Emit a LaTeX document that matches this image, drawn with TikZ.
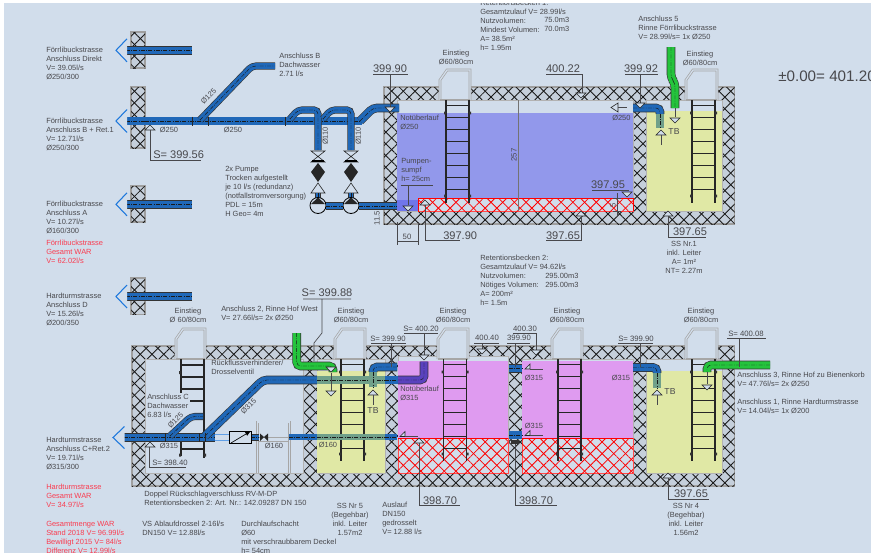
\documentclass[tikz,border=0pt]{standalone}
\usepackage{fontspec}
\setmainfont{Liberation Sans}
\usetikzlibrary{patterns.meta}
\definecolor{sheetbg}{RGB}{209,221,235}
\definecolor{inktext}{RGB}{72,72,76}
\definecolor{redtext}{RGB}{250,60,80}
\definecolor{waterblue}{RGB}{146,152,235}
\definecolor{sumpblue}{RGB}{112,118,235}
\definecolor{watermag}{RGB}{223,155,240}
\definecolor{wateryel}{RGB}{224,232,165}
\definecolor{pipeblue}{RGB}{32,104,184}
\definecolor{pipegreen}{RGB}{36,196,60}
\definecolor{pipeteal}{RGB}{112,160,138}
\definecolor{pipepurple}{RGB}{90,66,190}
\definecolor{flowblue}{RGB}{30,120,220}
\tikzset{
    note/.style={text=inktext, inner sep=0pt, anchor=west, text height=4pt, text depth=1.2pt,
        font=\fontsize{5.6}{6.7}\selectfont},
    rednote/.style={note, text=redtext},
    midnote/.style={note, anchor=center},
    level/.style={text=inktext, inner sep=0pt, font=\fontsize{8.3}{9}\selectfont},
    levelsm/.style={text=inktext, inner sep=0pt, font=\fontsize{5.8}{7}\selectfont},
    leader/.style={draw=inktext, line width=.5pt},
    wallbox/.style={draw=gray!75, line width=.8pt, fill=sheetbg!85!gray,
        postaction={pattern={Lines[angle=45,distance=6.2pt,line width=.65pt]}, pattern color=black!90},
        postaction={pattern={Lines[angle=-45,distance=6.2pt,line width=.65pt]}, pattern color=black!90}},
    redbox/.style={fill=sheetbg, draw=red!70, line width=.4pt,
        postaction={pattern={Lines[angle=45,distance=6.2pt,line width=.6pt]}, pattern color=red},
        postaction={pattern={Lines[angle=-45,distance=6.2pt,line width=.6pt]}, pattern color=red}},
    room/.style={fill=sheetbg, draw=gray!60, line width=.5pt},
    pipe/.style 2 args={line join=round, rounded corners=3pt,
        preaction={draw=black!80, line width=#2+.9pt},
        draw=#1, line width=#2,
        postaction={draw=black!90, line width=.35pt, dash pattern=on 3pt off 1pt on .6pt off 1pt}},
    rail/.style={draw=black!85, line width=1.1pt},
    rung/.style={draw=black!85, line width=.9pt},
    hood/.style={draw=gray!70, line width=.55pt, double=sheetbg, double distance=.9pt, fill=sheetbg},
    flowhead/.style={draw=flowblue, line width=.8pt, fill=sheetbg},
    levelmark/.style={draw=black!85, line width=.45pt, fill=sheetbg},
}
\begin{document}
\begin{tikzpicture}[x=0.75pt, y=-0.75pt]
    % one text line per entry, nine pixels apart
    \def\notes#1#2(#3,#4)#5{\foreach \ltext [count=\i from 0] in {#5}
        \node[#1] (#2\i) at (#3,{#4+9*(\i)}) {\ltext};}
    \def\ladder#1#2#3#4{
        \draw[rail] (#1,#3) -- (#1,#4) (#2,#3) -- (#2,#4);
        \foreach \k in {0,...,7} \draw[rung] (#1,{#3+5.5+12*\k}) -- (#2,{#3+5.5+12*\k});
        \foreach \k in {#3+13,#4-7} {\fill[black!80] (#1-2,\k-1.3) rectangle (#1,\k+1.3) (#2,\k-1.3) rectangle (#2+2,\k+1.3);}
    }
    \def\hatch#1#2#3{\fill[sheetbg] (#1,#3-30) rectangle (#2,#3+.5);
        \draw[hood] (#1,#3) -- (#1,#3-20) -- (#1+7,#3-30) -- (#2,#3-30) -- (#2,#3);
        \draw[draw=gray!70, line width=.8pt] (#1,#3) -- (#2,#3);}
    \def\markdn(#1,#2){\draw[levelmark] (#1-5,#2-5) -- (#1+5,#2-5) -- (#1,#2) -- cycle;}
    \def\markup(#1,#2){\draw[levelmark] (#1-5,#2+5) -- (#1+5,#2+5) -- (#1,#2) -- cycle;}
    \def\flowend(#1,#2){\draw[flowhead] (#1,#2-11.5) -- (#1-11,#2) -- (#1,#2+11.5);}
    \def\flag(#1,#2){\draw[levelmark] (#1,#2+3) -- (#1+5,#2-2) -- (#1+5,#2+3) -- cycle;
        \draw[leader] (#1+5,#2+3) -- (#1+18,#2+3);}
    \def\valve#1{
        \draw[levelmark] (#1-7,151) -- (#1+7,151) -- (#1-7,162) -- (#1+7,162) -- cycle;
        \draw[black, line width=.9pt] (#1-6,161) -- (#1+6,161);
        \fill[black!85] (#1,163) -- (#1+7,172) -- (#1,182) -- (#1-7,172) -- cycle;
        \draw[levelmark] (#1,183) -- (#1+7,193) -- (#1-7,193) -- cycle;
        \draw[pipe={pipeblue}{3.5pt}] (#1,193) -- (#1,198);
        \draw[black, line width=.6pt, fill=sheetbg] (#1,205.5) circle (8);
        \fill[black!85] (#1-7,204) -- (#1+7,204) -- (#1,197.5) -- cycle;
    }
    \useasboundingbox (0,0) rectangle (871,553);
    \clip (4,3) rectangle (871,553);
    \fill[sheetbg] (4,3) rectangle (871,553);

    % walls on the street side
    \foreach \ya/\yb in {32/68,87/148,186/222,278/314.5} \draw[wallbox] (131,\ya) rectangle (145,\yb);
    \foreach \yp in {50.3,121,204.3,296.5} {
        \draw[pipe={pipeblue}{5.6pt}] (126,\yp) -- (192,\yp);
        \flowend(127,\yp)
    }

    % upper basin
    \draw[wallbox] (384,87) rectangle (734.7,224);
    \draw[room] (397,100) rectangle (633,211);
    \fill[waterblue] (397,113) rectangle (633,200);
    \fill[sumpblue] (397,200) rectangle (418,211);
    \path[redbox] (418,198) rectangle (633,211);
    \draw[red, line width=.7pt] (418,211) -- (418,198.5) -- (633,198.5) -- (633,211);
    \draw[room] (646.7,100) rectangle (722,211);
    \fill[wateryel] (646.7,111) rectangle (722,211);
    \hatch{440}{470}{100}
    \hatch{686}{717}{100}
    \ladder{446}{469}{100}{203}
    \ladder{692}{715}{100}{203}

    % feed line and pumps
    \draw[pipe={pipeblue}{5.6pt}] (145,121) -- (362,121);
    \draw[pipe={pipeblue}{4.4pt}] (200,120) -- (252,66) -- (275,66);
    \draw[pipe={pipeblue}{4.4pt}] (290,119) -- (298,110) -- (318,110) -- (318,150);
    \draw[pipe={pipeblue}{4.4pt}] (323,119) -- (331,110) -- (351,110) -- (351,150);
    \draw[pipe={pipeblue}{5.6pt}] (360,121) -- (373,108) -- (399,108);
    \foreach \xt in {192.5,208,285} \draw[black!85, line width=.5pt] (\xt,116.5) -- (\xt,125.5);
    \valve{318}
    \valve{351}
    \draw[pipe={pipeblue}{4.5pt}] (326,206) -- (343,206);
    \draw[pipe={pipeblue}{4.5pt}] (359,206) -- (397,206);

    % right end of upper basin
    \draw[pipe={pipeblue}{5.6pt}] (633,108) -- (660,108) -- (660,114);
    \draw[pipe={pipeteal}{5.6pt}] (660,114) -- (660,128);
    \draw[pipe={pipegreen}{5.6pt}] (671,47) -- (671,78) -- (675,83) -- (675,108);
    \draw[levelmark] (611,107.5) -- (618,103) -- (618,112) -- cycle;
    \draw[leader] (618,107.5) -- (627,107.5);
    \draw[leader] (675,108) -- (675,117);
    \markdn(675,123)
    \markup(661,130)
    \draw[leader] (661,135) -- (661,145);

    % levels upper
    \node[level] (lvlA) at (390,69) {399.90};
    \draw[leader] (373,74) -- (408,74) (390,74) -- (390,107);
    \markdn(390,112)
    \node[level] (lvlB) at (563,69) {400.22};
    \draw[leader] (546,74) -- (582,74) -- (582,93);
    \markdn(581,98)
    \node[level] (lvlC) at (641,69) {399.92};
    \draw[leader] (625,74) -- (658,74) (640,74) -- (640,103);
    \markdn(640,108)
    \node[level] (lvlD) at (608,185) {397.95};
    \draw[leader] (592,190.5) -- (629,190.5);
    \markdn(627,197)
    \draw[leader] (617,193) -- (617,216) (613,198.5) -- (621,198.5) (613,211) -- (621,211);
    \node[levelsm, rotate=90] (lvlDd) at (613,205.5) {5};
    \node[level] (lvlE) at (443,236) [anchor=west] {397.90};
    \markup(425,200)
    \draw[leader] (425,205) -- (425,240) -- (460,240);
    \node[level] (lvlF) at (563,236) {397.65};
    \markup(581,211)
    \draw[leader] (581,216) -- (581,240) -- (546,240);
    \node[level] (lvlG) at (690,232) {397.65};
    \markup(668,211)
    \draw[leader] (668,216) -- (668,237) -- (706,237);
    \node[level, anchor=west] (lvlH) at (153,155) {S= 399.56};
    \markup(150,125)
    \draw[leader] (150,130) -- (150,160) -- (201,160);
    \node[levelsm, rotate=90] (dimH) at (514,155) {257};
    \draw[leader, gray!90!black, line width=.7pt] (518,100) -- (518,211);
    \node[levelsm] (dimS) at (407,236.5) {50};
    \draw[leader, line width=.6pt] (397,222) -- (397,245) (418,222) -- (418,245) (397,241) -- (418,241);
    \node[levelsm, rotate=90] (dimE) at (377,218) {11.5};
    \draw[leader] (401,185) -- (433,185) (408,185) -- (408,205);
    \markdn(408,211)

    % lower basin
    \draw[wallbox] (132,346) rectangle (734.7,486);
    \draw[room] (145,359) rectangle (303,473);
    \draw[room] (317,359) rectangle (385,473);
    \fill[wateryel] (317,371) rectangle (385,473);
    \draw[room] (398,356) rectangle (508,473);
    \fill[watermag] (398,361) rectangle (508,438);
    \path[redbox] (398,438) rectangle (508,473);
    \draw[red, line width=.7pt] (398,438) -- (508,438);
    \draw[room] (522,359) rectangle (633,473);
    \fill[watermag] (522,361) rectangle (633,438);
    \path[redbox] (522,438) rectangle (633,473);
    \draw[red, line width=.7pt] (522,438) -- (633,438);
    \draw[room] (646.7,359) rectangle (722,473);
    \fill[wateryel] (646.7,371) rectangle (722,473);
    \hatch{176}{205}{359}
    \hatch{335}{365}{359}
    \hatch{438}{468}{359}
    \hatch{552}{582}{359}
    \hatch{686}{717}{359}
    \ladder{341}{364}{359}{461}
    \ladder{443.5}{466.5}{359}{461}
    \ladder{558}{581}{359}{461}
    \ladder{692}{715}{359}{461}

    % first ladder, cut by the note beside it
    \draw[rail] (204,359) -- (204,458) (181,359) -- (181,393) (181,433) -- (181,456);
    \foreach \yr in {365,377,389} \draw[rung] (181,\yr) -- (204,\yr);
    \foreach \yr in {401} \draw[rung] (190,\yr) -- (204,\yr);
    \foreach \yr in {436,449} \draw[rung] (181,\yr) -- (204,\yr);
    \fill[black!80] (179,371) rectangle (181,374) (179,453.5) rectangle (181,456.5) (204,453.5) rectangle (206,456.5);

    % shaft
    \draw[draw=gray!70, line width=.5pt, double=sheetbg, double distance=1pt] (257.5,473) -- (257.5,422) -- (289.5,422) -- (289.5,473);
    \draw[draw=gray!70, line width=.5pt] (258,437) -- (289,437) (258,441) -- (289,441);

    % lower pipes
    \draw[pipe={pipeblue}{5.6pt}] (124,437.5) -- (215,437.5);
    \draw[flowhead] (124.5,426.5) -- (113,437.5) -- (124.5,448.5);
    \draw[pipe={pipeblue}{4.4pt}] (170,436) -- (191,416.5) -- (203,416.5);
    \draw[pipe={pipeblue}{5.6pt}] (205,436) -- (263,380) -- (317,380);
    \foreach \xt in {165,199,205} \draw[black!85, line width=.5pt] (\xt,433) -- (\xt,442);
    \draw[flowblue!70!white, line width=.6pt] (215,434.5) -- (229,434.5) (215,440.5) -- (229,440.5);
    \draw[pipe={pipeblue}{4pt}] (251,437.5) -- (259,437.5);
    \draw[black, line width=.5pt, fill=sheetbg] (229,431) rectangle (251,443);
    \draw[black, line width=.5pt, -latex] (231,443) -- (251,431);
    \fill[black!85] (260,433.5) -- (264,437) -- (260,441) -- cycle (268,433.5) -- (264,437) -- (268,441) -- cycle;
    \draw[pipe={pipeblue}{4pt}] (289,437) -- (317,437);
    \draw[pipe={pipeteal}{4pt}] (317,437) -- (385,437);
    \draw[pipe={pipeblue}{4pt}] (385,437) -- (397,437);
    \draw[pipe={pipeteal}{5.6pt}] (317,380) -- (385,380);
    \draw[pipe={pipeblue}{5.6pt}] (385,380) -- (398,380);
    \draw[pipe={pipepurple}{5.6pt}] (398,380) -- (424,380) -- (424,361.5);
    \draw[pipe={pipeblue}{5.6pt}] (397,367) -- (373,367) -- (373,372);
    \draw[pipe={pipeteal}{5.6pt}] (373,372) -- (373,387);
    \draw[pipe={pipegreen}{5.6pt}] (296.7,333) -- (296.7,366) -- (333,366) -- (333,372);
    \draw[pipe={pipeblue}{5.6pt}] (509,368.5) -- (522,368.5);
    \draw[pipe={pipeblue}{5.6pt}] (509,435) -- (522,435);
    \draw[pipe={pipeblue}{5.6pt}] (633,367.5) -- (657,367.5) -- (657,373);
    \draw[pipe={pipeteal}{5.6pt}] (657,373) -- (657,388);
    \draw[pipe={pipegreen}{5.6pt}] (770,365) -- (707,365) -- (707,372);
    \flag(400,433.5)
    \flag(525,366)
    \flag(525,432.5)

    % levels lower
    \markdn(331,396)
    \draw[leader] (331,373) -- (331,391);
    \markup(373,390)
    \draw[leader] (373,395) -- (373,405);
    \draw[leader] (707,372) -- (707,384);
    \markdn(707,390)
    \markup(657,390)
    \draw[leader] (657,395) -- (657,405);
    \node[level] (lvlJ) at (327,293) {S= 399.88};
    \draw[leader] (303,299) -- (351,299) (322,299) -- (322,333) -- (314,343) -- (314,361);
    \markdn(331,372)
    \node[levelsm] (lvlK) at (388,338.7) {S= 399.90};
    \draw[leader] (371,343) -- (406,343) (391,343) -- (391,367);
    \node[levelsm] (lvlL) at (421,329) {S= 400.20};
    \draw[leader] (404,333) -- (438,333) (424,333) -- (424,355);
    \markdn(424,360)
    \node[levelsm] (lvlM) at (487,338) {400.40};
    \draw[leader] (474,343) -- (499,343) (482,343) -- (482,349);
    \markdn(482,354)
    \node[levelsm] (lvlN) at (519,338) {399.90};
    \draw[leader] (507,343) -- (530,343) (515,343) -- (515,367);
    \node[levelsm] (lvlO) at (525,328.5) {400.30};
    \draw[leader] (513,333) -- (537,333) (536,333) -- (536,350);
    \markdn(536,355)
    \node[levelsm] (lvlP) at (636,338.7) {S= 399.90};
    \draw[leader] (618,343) -- (653,343) (640,343) -- (640,367);
    \node[levelsm] (lvlQ) at (746,334) {S= 400.08};
    \draw[leader] (727,338) -- (766,338) (739,338) -- (739,367);
    \node[levelsm, anchor=west] (lvlR) at (152,463) {S= 398.40};
    \markup(150,442)
    \draw[leader] (149.5,447) -- (149.5,467) -- (186,467);
    \node[level] (lvlS) at (440,500.7) {398.70};
    \markup(419,438)
    \draw[leader] (419,443) -- (419,505) -- (460,505);
    \node[level] (lvlT) at (536,500.7) {398.70};
    \draw[leader] (515,443) -- (515,505) -- (557,505);
    \fill[black!80] (511,440) rectangle (519,444);
    \node[level] (lvlU) at (691,494) {397.65};
    \markup(668,473)
    \draw[leader] (668,478) -- (668,499.5) -- (709,499.5);

    % notes left
    \notes{note}{forA}(46,50.5){Förrlibuckstrasse,Anschluss Direkt,V= 39.05l/s,Ø250/300}
    \notes{note}{forB}(46,121.5){Förrlibuckstrasse,Anschluss B + Ret.1,V= 12.71l/s,Ø250/300}
    \notes{note}{forC}(46,204.5){Förrlibuckstrasse,Anschluss A,V= 10.27l/s,Ø160/300}
    \notes{rednote}{forW}(46,243.5){Förrlibuckstrasse,Gesamt WAR,V= 62.02l/s}
    \notes{note}{harD}(46,296.5){Hardturmstrasse,Anschluss D,V= 15.26l/s,Ø200/350}
    \notes{note}{harC}(46,440.5){Hardturmstrasse,Anschluss C+Ret.2,V= 19.71l/s,Ø315/300}
    \notes{rednote}{harW}(46,487.5){Hardturmstrasse,Gesamt WAR,V= 34.97l/s}
    \notes{rednote}{total}(46,524.5){Gesamtmenge WAR,Stand 2018 V= 96.99l/s,Bewilligt 2015 V= 84l/s,Differenz V= 12.99l/s}

    % notes upper
    \notes{note}{dach}(279,56.5){Anschluss B,Dachwasser,2.71 l/s}
    \notes{note}{pump}(225,170){2x Pumpe,Trocken aufgestellt,je 10 l/s (redundanz),(notfallstromversorgung),PDL = 15m,H Geo= 4m}
    \notes{note}{reta}(480,3.5){Retentionsbecken 1:,Gesamtzulauf V= 28.99l/s,Nutzvolumen:,Mindest Volumen:,A= 38.5m²,h= 1.95m}
    \notes{note}{retv}(544,21){75.0m3,70.0m3}
    \notes{midnote}{einA}(456,54){Einstieg,Ø60/80cm}
    \notes{midnote}{einB}(700,54.5){Einstieg,Ø60/80cm}
    \notes{note}{ansF}(638,19.5){Anschluss 5,Rinne Förrlibuckstrasse,V= 28.99l/s= 1x Ø250}
    \notes{note}{noA}(400,118.5){Notüberlauf,Ø250}
    \notes{note}{sump}(401,162){Pumpen-,sumpf,h= 25cm}
    \notes{midnote}{ssA}(684,245){SS Nr.1,inkl. Leiter,A= 1m²,NT= 2.27m}
    \node[note] (dB) at (612,119) {Ø250};
    \node[midnote, rotate=45] (dC) at (209,97) {Ø125};
    \node[midnote] (dD) at (169,131) {Ø250};
    \node[midnote] (dE) at (233,131) {Ø250};
    \node[midnote, rotate=90] (dF) at (326,136) {Ø110};
    \node[midnote, rotate=90] (dG) at (359,136) {Ø110};
    \node[text=inktext, inner sep=0pt, font=\fontsize{6.5}{7}\selectfont] (tbA) at (674,132) {TB};
    \node[text=inktext, inner sep=0pt, anchor=west, font=\fontsize{11.4}{12}\selectfont] (zero) at (778,76) {±0.00= 401.20};

    % notes lower
    \notes{note}{retb}(480,258.5){Retentionsbecken 2:,Gesamtzulauf V= 94.62l/s,Nutzvolumen:,Nötiges Volumen:,A= 200m²,h= 1.5m}
    \notes{note}{retw}(545,276.5){295.00m3,295.00m3}
    \notes{midnote}{einC}(188,311.7){Einstieg,Ø 60/80cm}
    \notes{midnote}{einD}(351,311.7){Einstieg,Ø60/80cm}
    \notes{midnote}{einE}(453,311.7){Einstieg,Ø60/80cm}
    \notes{midnote}{einF}(567,311.7){Einstieg,Ø60/80cm}
    \notes{midnote}{einG}(701,311.7){Einstieg,Ø60/80cm}
    \notes{note}{ansH}(221,310){Anschluss 2{,} Rinne Hof West,V= 27.66l/s= 2x Ø250}
    \notes{note}{rueck}(211,363.5){Rückflussverhinderer/,Drosselventil}
    \notes{note}{ansC}(147,397.5){Anschluss C,Dachwasser,6.83 l/s}
    \notes{note}{doppel}(144,494.5){Doppel Rückschlagverschluss RV-M-DP,Retentionsbecken 2: Art. Nr.: 142.09287 DN 150}
    \notes{note}{vs}(142,524.5){VS Ablaufdrossel 2-16l/s,DN150 V= 12.88l/s}
    \notes{note}{durch}(241,524.5){Durchlaufschacht,Ø60,mit verschraubbarem Deckel,h= 54cm}
    \notes{midnote}{ssB}(350,506.7){SS Nr 5,(Begehbar),inkl. Leiter,1.57m2}
    \notes{note}{aus}(382,505.5){Auslauf,DN150,gedrosselt,V= 12.88 l/s}
    \notes{midnote}{ssC}(686,506.7){SS Nr 4,(Begehbar),inkl. Leiter,1.56m2}
    \notes{note}{ansJ}(737,375.5){Anschluss 3{,} Rinne Hof zu Bienenkorb,V= 47.76l/s= 2x Ø250}
    \notes{note}{ansK}(737,402.5){Anschluss 1{,} Rinne Hardturmstrasse,V= 14.04l/s= 1x Ø200}
    \notes{note}{noB}(400,390){Notüberlauf,Ø315}
    \node[midnote, rotate=45] (dH) at (176,420.7) {Ø125};
    \node[midnote] (dJ) at (169,446.7) {Ø315};
    \node[midnote, rotate=45] (dK) at (249,407) {Ø315};
    \node[midnote] (dL) at (274,446.5) {Ø160};
    \node[midnote] (dM) at (328,446) {Ø160};
    \node[midnote] (dN) at (534,379) {Ø315};
    \node[midnote] (dO) at (534,426.7) {Ø315};
    \node[midnote] (dP) at (621,378.7) {Ø315};
    \node[text=inktext, inner sep=0pt, font=\fontsize{6.5}{7}\selectfont] (tbB) at (373,411) {TB};
    \node[text=inktext, inner sep=0pt, font=\fontsize{6.5}{7}\selectfont] (tbC) at (670,391.7) {TB};
\end{tikzpicture}
\end{document}
